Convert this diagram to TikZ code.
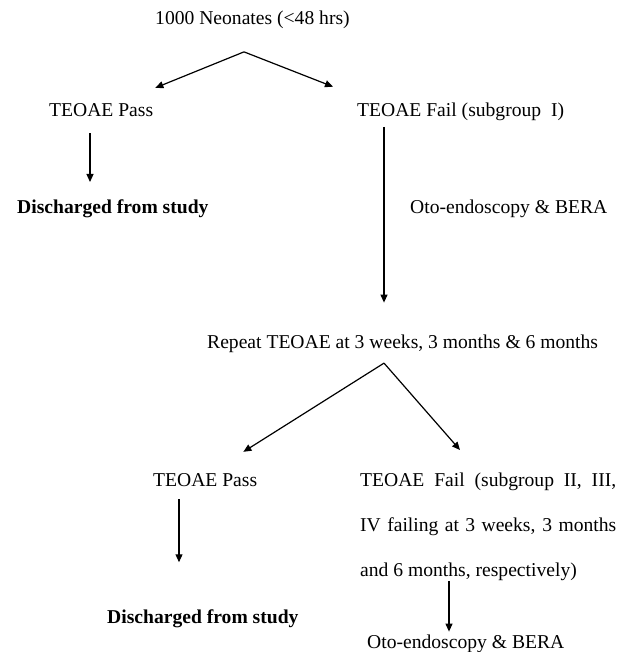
\documentclass[tikz,border=0pt]{standalone}
\usepackage{fontspec}
\setmainfont{Liberation Serif}
\usetikzlibrary{arrows.meta,calc}
\tikzset{
  txt/.style={font=\fontsize{19.6}{45}\selectfont, inner sep=0pt, anchor=base west},
  txtb/.style={txt, font=\fontsize{19.6}{45}\selectfont\bfseries},
  arr/.style={line width=1.2pt, -{Triangle[length=8pt,width=7pt]}},
  ln/.style={line width=1.2pt}
}
\begin{document}
\begin{tikzpicture}[x=1pt,y=-1pt]
\useasboundingbox (0,0) rectangle (628,652);
% first test
\node[txt] (neo) at (155,24.5) {1000 Neonates (<48 hrs)};
\node[txt] (pass1) at (49,116.5) {TEOAE Pass};
\node[txt] (fail1) at (357,116.5) {TEOAE Fail (subgroup\ \ I)};
\node[txtb] (dis1) at (17,213) {Discharged from study};
\node[txt] (oto1) at (410,213) {Oto-endoscopy \& BERA};
% follow up
\node[txt] (rep) at (207,348) {Repeat TEOAE at 3 weeks, 3 months \& 6 months};
\node[txt] (pass2) at (153,486) {TEOAE Pass};
\node[txt, anchor=north west, text width=256pt, align=justify] (fail2) at (360,472.6)
  {TEOAE Fail (subgroup II, III,\linebreak IV failing at 3 weeks, 3 months\linebreak and 6 months, respectively)};
\node[txtb] (dis2) at (107,623) {Discharged from study};
\node[txt] (oto2) at (367,648) {Oto-endoscopy \& BERA};
% splits
\coordinate (split1) at ($(neo.south west)+(89,23)$);
\coordinate (split2) at ($(rep.south west)+(177,10.75)$);
\draw[arr] (split1) -- ($(pass1.north east)+(2,-15.5)$);
\draw[arr] (split1) -- ($(fail1.north west)+(-24,-16)$);
\draw[arr] (split2) -- ($(pass2.north east)+(-14,-21)$);
\draw[arr] (split2) -- ($(fail2.north west)+(100,-22.6)$);
% down arrows
\draw[arr] ($(pass1.south west)+(41,16.5)$) -- ($(dis1.north west)+(73,-17)$);
\draw[arr] ($(fail1.south west)+(27,6)$) -- ($(rep.north west)+(177,-31.6)$);
\draw[arr] ($(pass2.south west)+(26,13)$) -- ($(dis2.north west)+(72,-46.75)$);
\draw[arr] ($(fail2.south west)+(89,0)$) -- ($(oto2.north west)+(82,-2.6)$);
\end{tikzpicture}
\end{document}
